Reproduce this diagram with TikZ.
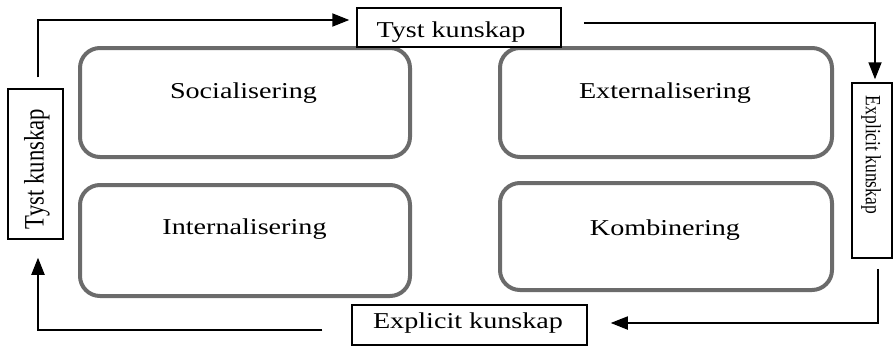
\documentclass[tikz,border=0pt]{standalone}
\usepackage{fontspec}
\usepackage{graphicx}
\setmainfont{Liberation Serif}
\usetikzlibrary{arrows.meta}
\definecolor{boxgray}{HTML}{6B6B6B}
\tikzset{
  phase/.style={draw=boxgray, line width=4pt, rounded corners=20pt, inner sep=0pt},
  label box/.style={draw=black, line width=1.5pt, inner sep=0pt, fill=white},
  txt/.style={inner sep=0pt, font=\fontsize{22.7}{27}\selectfont},
  smalltxt/.style={inner sep=0pt, font=\fontsize{17.5}{20}\selectfont},
  arr/.style={line width=1.8pt, -{Triangle[length=17pt,width=13pt]}}
}
\newcommand{\hs}[1]{\scalebox{1.24}[1]{#1}}
\newcommand{\vs}[1]{\scalebox{1}[1.24]{#1}}
\begin{document}
\begin{tikzpicture}[x=1pt,y=-1pt]
\useasboundingbox (0,0) rectangle (895,348);
% phase boxes
\node[phase, minimum width=330pt, minimum height=109pt] (soc) at (245,102.5) {};
\node[phase, minimum width=332pt, minimum height=109pt] (ext) at (666,102.5) {};
\node[phase, minimum width=330pt, minimum height=111pt] (int) at (245,240.5) {};
\node[phase, minimum width=332pt, minimum height=107pt] (kom) at (666,236.5) {};
\node[txt, anchor=base] (soct) at (243.5,98) {\hs{Socialisering}};
\node[txt, anchor=base] (extt) at (665,98) {\hs{Externalisering}};
\node[txt, anchor=base] (intt) at (244.5,234) {\hs{Internalisering}};
\node[txt, anchor=base] (komt) at (665,235) {\hs{Kombinering}};
% label boxes
\node[label box, minimum width=204pt, minimum height=39pt] (top) at (459,27.5) {};
\node[label box, minimum width=235pt, minimum height=40pt] (bot) at (469.5,325) {};
\node[label box, minimum width=55pt, minimum height=150pt] (left) at (35.5,164) {};
\node[label box, minimum width=40pt, minimum height=175pt] (right) at (872,170.5) {};
\node[txt, anchor=base] (topt) at (451,37) {\hs{Tyst kunskap}};
\node[txt, anchor=base] (bott) at (468,328) {\hs{Explicit kunskap}};
\node[txt, rotate=90] (leftt) at (37,169) {\vs{Tyst kunskap}};
\node[smalltxt, rotate=-90] (rightt) at (871,155) {\vs{Explicit kunskap}};
% connectors
\draw[arr] ([xshift=2.5pt,yshift=11pt]left.north) |- ([xshift=-7pt,yshift=7.5pt]top.west);
\draw[arr] ([xshift=22pt,yshift=4.5pt]top.east) -| ([xshift=3pt,yshift=3pt]right.north);
\draw[arr] ([xshift=6pt,yshift=-10pt]right.south) |- ([xshift=23pt,yshift=2pt]bot.east);
\draw[arr] ([xshift=-29pt,yshift=-5pt]bot.west) -| ([xshift=2.5pt,yshift=-18pt]left.south);
\end{tikzpicture}
\end{document}
